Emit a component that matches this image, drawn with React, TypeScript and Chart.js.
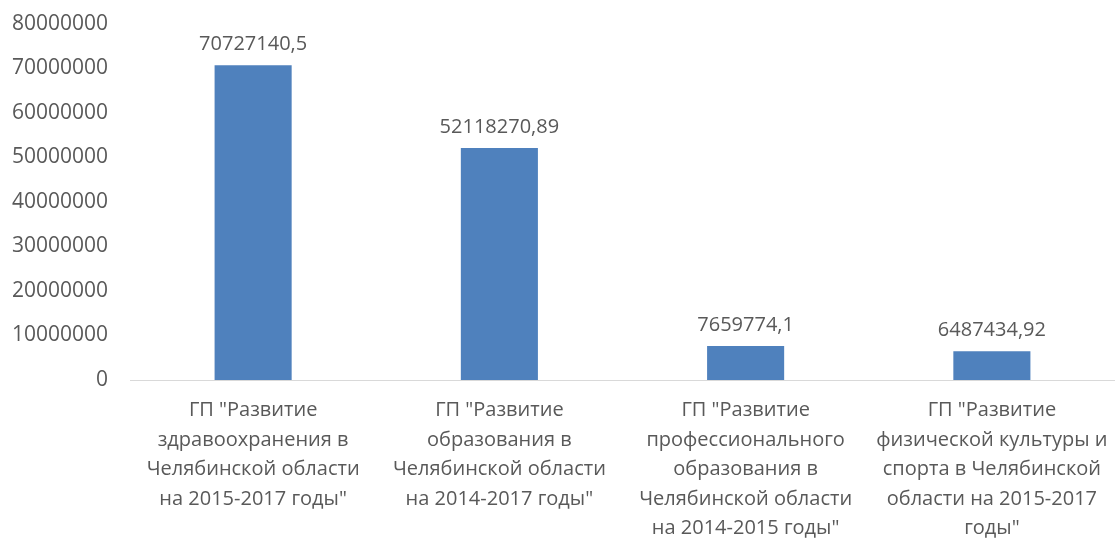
import React, { useEffect, useRef } from "react";
import { Chart, registerables } from "chart.js";

Chart.register(...registerables);

const categories: string[][] = [
  ['ГП "Развитие', "здравоохранения в", "Челябинской области", 'на 2015-2017 годы"'],
  ['ГП "Развитие', "образования в", "Челябинской области", 'на 2014-2017 годы"'],
  ['ГП "Развитие', "профессионального", "образования в", "Челябинской области", 'на 2014-2015 годы"'],
  ['ГП "Развитие', "физической культуры и", "спорта в Челябинской", "области на 2015-2017", 'годы"'],
];
const values: number[] = [70727140.5, 52118270.89, 7659774.1, 6487434.92];
const yMin = 0;
const yMax = 80000000;
const yStep = 10000000;

const TEXT = "#595959";
const BAR = "#4F81BD";
const FONT = "'Open Sans', sans-serif";

const dataLabelPlugin = {
  id: "dataLabels",
  afterDatasetsDraw(chart: any) {
    const ctx = chart.ctx;
    const meta = chart.getDatasetMeta(0);
    ctx.save();
    ctx.font = `20px ${FONT}`;
    ctx.fillStyle = TEXT;
    ctx.textAlign = "center";
    ctx.textBaseline = "middle";
    meta.data.forEach((bar: any, i: number) => {
      const txt = String(values[i]).replace(".", ",");
      ctx.fillText(txt, bar.x, bar.y - 21);
    });
    ctx.restore();
  },
};

export default function App() {
  const ref = useRef<HTMLCanvasElement | null>(null);
  useEffect(() => {
    if (!ref.current) return;
    const chart = new Chart(ref.current, {
      type: "bar",
      data: {
        labels: categories,
        datasets: [
          {
            data: values,
            backgroundColor: BAR,
            borderWidth: 0,
            barPercentage: 0.313,
            categoryPercentage: 1,
          },
        ],
      },
      options: {
        animation: false,
        responsive: true,
        maintainAspectRatio: false,
        layout: { padding: { left: 12, top: 24, right: 0, bottom: 0 } },
        plugins: { legend: { display: false }, tooltip: { enabled: false } },
        scales: {
          x: {
            grid: { display: false, drawTicks: false },
            border: { display: true, color: "#D9D9D9", width: 1 },
            ticks: {
              color: TEXT,
              font: { family: FONT, size: 20, lineHeight: 1.47 },
              padding: 16,
              maxRotation: 0,
              minRotation: 0,
              autoSkip: false,
            },
            afterFit: (s: any) => {
              s.height = 159;
              s.paddingLeft = 0;
              s.paddingRight = 0;
            },
          },
          y: {
            min: yMin,
            max: yMax,
            grid: { display: false, drawTicks: false },
            border: { display: false },
            ticks: {
              stepSize: yStep,
              color: TEXT,
              font: { family: FONT, size: 21 },
              padding: 22,
              callback: (v: any) => String(v),
            },
            afterFit: (s: any) => {
              s.width = 118;
              s.paddingTop = 0;
              s.paddingBottom = 0;
            },
          },
        },
      },
      plugins: [dataLabelPlugin],
    });
    return () => chart.destroy();
  }, []);
  return (
    <div style={{ position: "fixed", left: 0, top: 0, width: 1115, height: 539, background: "#fff" }}>
      <canvas ref={ref} />
    </div>
  );
}
